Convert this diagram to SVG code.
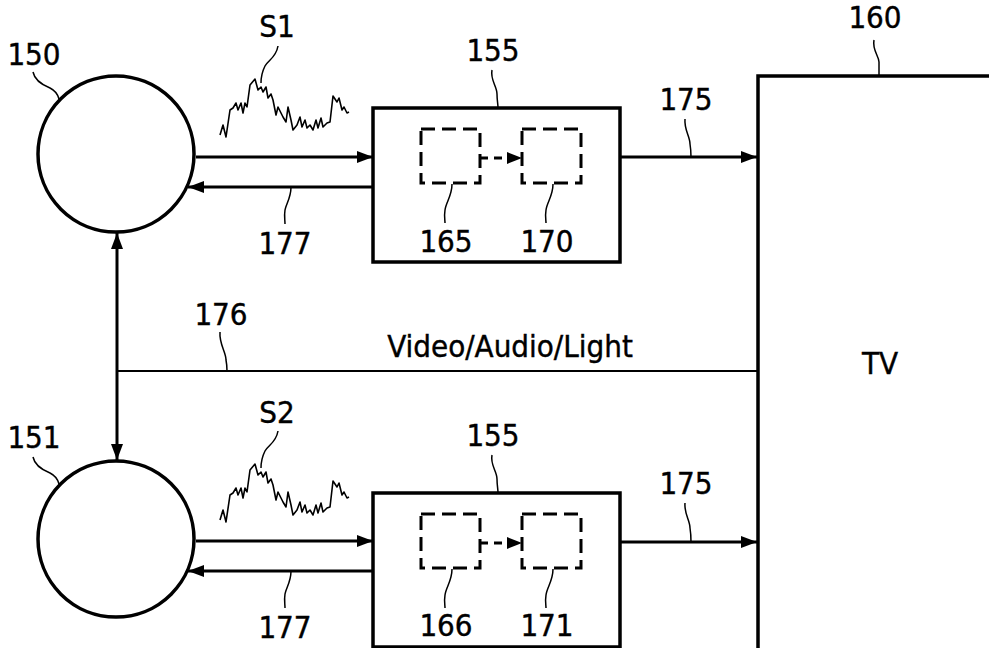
<svg xmlns="http://www.w3.org/2000/svg" width="989" height="648" viewBox="0 0 989 648">
<style>
text{font-family:"DejaVu Sans Condensed","DejaVu Sans","Liberation Sans",sans-serif;font-stretch:condensed;font-size:31px;fill:#000;stroke:#000;stroke-width:0.4;text-anchor:middle}
.node{fill:#fff;stroke:#000;stroke-width:3.5}
.dash{fill:none;stroke:#000;stroke-width:3;stroke-dasharray:14 7}
.lead{fill:none;stroke:#000;stroke-width:1.5}
.wire{fill:none;stroke:#000;stroke-width:3}
.thin{fill:none;stroke:#000;stroke-width:2}
.wave{fill:none;stroke:#000;stroke-width:1.6;stroke-linejoin:round}
</style>
<defs>
<marker id="ah" markerUnits="userSpaceOnUse" markerWidth="16" markerHeight="12" refX="16" refY="6" orient="auto-start-reverse">
<path d="M0,0 L16,6 L0,12 z" fill="#000"/>
</marker>
<marker id="ahs" markerUnits="userSpaceOnUse" markerWidth="15" markerHeight="12" refX="15" refY="6" orient="auto">
<path d="M0,0 L15,6 L0,12 z" fill="#000"/>
</marker>
<path id="wv" class="wave" d="M220,135 L223,125 L226,137 L230,110 L233,108 L236,103 L238,110 L241,103 L243,113 L245,103 L247,107 L250,85 L255,79 L258,90 L261,87 L263,92 L266,87 L268,98 L271,94 L273,100 L276,115 L278,107 L281,113 L283,117 L286,122 L288,107 L291,120 L293,130 L297,125 L300,117 L302,127 L305,120 L307,128 L310,125 L313,130 L316,120 L318,128 L321,118 L323,127 L327,123 L330,122 L333,96 L337,102 L339,98 L342,110 L344,107 L347,113 L349,112"/>
</defs>
<rect width="989" height="648" fill="#fff"/>

<g id="n150">
<circle class="node" cx="116" cy="154" r="78"/>
<text x="34" y="65">150</text>
<path class="lead" d="M33,72 C35,82 45,86 50,88 C56,91 58,95 59,99"/>
</g>
<g id="n151">
<circle class="node" cx="116" cy="539" r="78"/>
<text x="34" y="448">151</text>
<path class="lead" d="M33,457 C35,467 45,471 50,473 C56,476 58,480 59,484"/>
</g>

<g id="s1">
<use href="#wv"/>
<text x="277" y="37">S1</text>
<path class="lead" d="M278,46 C276,58 268,60 265,66 C262,72 261,78 261,83"/>
</g>
<g id="s2">
<use href="#wv" transform="translate(0,385)"/>
<text x="277" y="423">S2</text>
<path class="lead" d="M278,431 C276,443 268,445 265,451 C262,457 261,463 261,468"/>
</g>

<g id="n155a">
<rect class="node" x="373" y="108" width="247" height="154"/>
<text x="493" y="61">155</text>
<path class="lead" d="M492,70 C490,80 497,86 497,94 C497,100 498,104 498,108"/>
</g>
<g id="n165">
<rect class="dash" x="421" y="129" width="59" height="54"/>
<text x="446" y="252">165</text>
<path class="lead" d="M452,184 C452,196 446,202 445,210 C444,216 445,220 445,223"/>
</g>
<g id="n170">
<rect class="dash" x="522" y="129" width="59" height="54"/>
<text x="547" y="252">170</text>
<path class="lead" d="M553,184 C553,196 547,202 546,210 C545,216 546,220 546,223"/>
</g>

<g id="n155b">
<rect class="node" x="373" y="493" width="247" height="154"/>
<text x="493" y="446">155</text>
<path class="lead" d="M492,455 C490,465 497,471 497,479 C497,485 498,489 498,493"/>
</g>
<g id="n166">
<rect class="dash" x="421" y="514" width="59" height="54"/>
<text x="446" y="636">166</text>
<path class="lead" d="M452,569 C452,581 446,587 445,595 C444,601 445,605 445,608"/>
</g>
<g id="n171">
<rect class="dash" x="522" y="514" width="59" height="54"/>
<text x="547" y="636">171</text>
<path class="lead" d="M553,569 C553,581 547,587 546,595 C545,601 546,605 546,608"/>
</g>

<g id="n160">
<rect class="node" x="758" y="76" width="300" height="620" stroke-width="4"/>
<text x="875" y="28">160</text>
<path class="lead" d="M874,40 C872,50 879,56 879,62 C879,68 879,72 879,76"/>
<text x="880" y="374">TV</text>
</g>

<g id="connectors">
<line class="wire" x1="196" y1="157" x2="373" y2="157" marker-end="url(#ah)"/>
<line class="wire" x1="373" y1="187" x2="188" y2="187" marker-end="url(#ah)"/>
<line class="wire" x1="196" y1="541" x2="373" y2="541" marker-end="url(#ah)"/>
<line class="wire" x1="373" y1="571" x2="188" y2="571" marker-end="url(#ah)"/>
<line class="wire" x1="620" y1="157" x2="757" y2="157" marker-end="url(#ah)"/>
<line class="wire" x1="620" y1="542" x2="757" y2="542" marker-end="url(#ah)"/>
<line class="wire" x1="480" y1="158" x2="522" y2="158" stroke-dasharray="8 6" marker-end="url(#ahs)"/>
<line class="wire" x1="480" y1="543" x2="522" y2="543" stroke-dasharray="8 6" marker-end="url(#ahs)"/>
<line class="wire" x1="117" y1="233" x2="117" y2="460" marker-start="url(#ah)" marker-end="url(#ah)"/>
<line class="thin" x1="117" y1="371" x2="758" y2="371"/>
<text x="510" y="357">Video/Audio/Light</text>
<text x="686" y="110">175</text>
<path class="lead" d="M685,119 C684,130 690,136 690,144 C691,150 691,154 691,157"/>
<text x="686" y="494">175</text>
<path class="lead" d="M685,503 C684,514 690,520 690,528 C691,534 691,538 691,542"/>
<text x="285" y="254">177</text>
<path class="lead" d="M291,187 C291,198 286,204 285,210 C284,216 285,220 285,224"/>
<text x="285" y="638">177</text>
<path class="lead" d="M291,571 C291,582 286,588 285,594 C284,600 285,604 285,608"/>
<text x="221" y="325">176</text>
<path class="lead" d="M220,332 C219,344 226,352 226,360 C227,365 227,368 227,371"/>
</g>
</svg>
